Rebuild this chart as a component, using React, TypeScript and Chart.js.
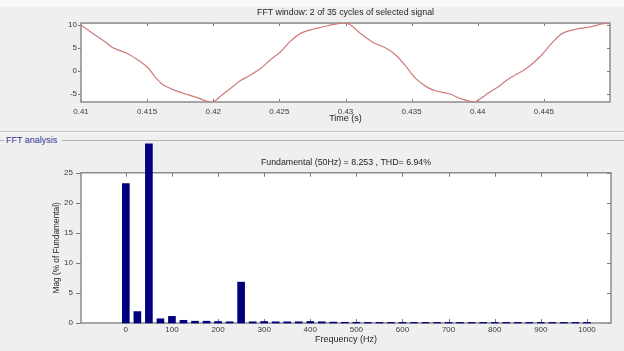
import React, { useEffect, useRef } from 'react';
import { Chart, registerables } from 'chart.js';

Chart.register(...registerables);

// ---- Top plot: FFT window signal ----
const timeS = [
  0.41, 0.4109, 0.4119, 0.4124, 0.4135, 0.4145, 0.4151, 0.4157, 0.4162, 0.417,
  0.418, 0.4188, 0.4194, 0.4198, 0.4201, 0.4205, 0.4213, 0.422, 0.4228, 0.4236,
  0.4243, 0.4251, 0.4258, 0.4266, 0.4275, 0.4283, 0.429, 0.4297, 0.4303, 0.431,
  0.432, 0.4331, 0.4338, 0.4346, 0.4353, 0.4361, 0.4368, 0.4379, 0.4386, 0.4394,
  0.4398, 0.4406, 0.4416, 0.4424, 0.4437, 0.4447, 0.4457, 0.4464, 0.4474, 0.4485,
  0.4495, 0.45,
];
const signal = [
  10.0, 8.2, 6.2, 5.1, 3.8, 2.0, 0.6, -1.6, -3.0, -4.1,
  -5.1, -5.8, -6.5, -6.7, -6.6, -5.6, -3.8, -2.2, -0.9, 0.6,
  2.4, 4.2, 6.4, 8.2, 9.1, 9.6, 10.1, 10.4, 10.2, 8.5,
  6.4, 4.9, 3.5, 0.9, -1.6, -3.4, -4.3, -5.0, -5.9, -6.6,
  -6.7, -5.2, -3.3, -1.6, 0.6, 3.1, 6.4, 8.2, 9.1, 9.6,
  10.3, 10.4,
];
const timeTicks = [0.41, 0.415, 0.42, 0.425, 0.43, 0.435, 0.44, 0.445];
const signalTicks = [-5, 0, 5, 10];

// ---- Bottom plot: FFT spectrum ----
const freqHz = [
  0, 25, 50, 75, 100, 125, 150, 175, 200, 225, 250, 275, 300, 325, 350, 375, 400,
  425, 450, 475, 500, 525, 550, 575, 600, 625, 650, 675, 700, 725, 750, 775, 800,
  825, 850, 875, 900, 925, 950, 975, 1000,
];
const magPct = [
  23.2, 1.9, 29.8, 0.7, 1.1, 0.45, 0.3, 0.3, 0.25, 0.2, 6.8, 0.2, 0.25, 0.2, 0.2, 0.2, 0.25,
  0.2, 0.15, 0.12, 0.12, 0.1, 0.1, 0.1, 0.1, 0.1, 0.1, 0.1, 0.1, 0.1, 0.1, 0.1, 0.1,
  0.1, 0.1, 0.1, 0.1, 0.1, 0.1, 0.1, 0.1,
];
const freqTicks = [0, 100, 200, 300, 400, 500, 600, 700, 800, 900, 1000];
const magTicks = [0, 5, 10, 15, 20, 25];

const topTitle = 'FFT window: 2 of 35 cycles of selected signal';
const bottomTitle = 'Fundamental (50Hz) = 8.253 , THD= 6.94%';

const FONT = 'Arial, "Liberation Sans", sans-serif';
const TICK_COLOR = '#3a3a3a';
const TEXT_COLOR = '#1e1e1e';

const matlabBox = {
  id: 'matlabBox',
  beforeDraw(chart: any) {
    const { ctx, chartArea: ca } = chart;
    ctx.save();
    ctx.fillStyle = '#ffffff';
    ctx.fillRect(ca.left, ca.top, ca.right - ca.left, ca.bottom - ca.top);
    ctx.restore();
  },
  beforeDatasetsDraw(chart: any, _args: any, opts: any) {
    const { ctx, chartArea: ca, scales } = chart;
    const xs = scales.x;
    const ys = scales.y;
    const L = opts.tickLen ?? 3;
    const Lout = opts.leftOut ?? 3;
    ctx.save();
    ctx.strokeStyle = '#7a7a7a';
    ctx.lineWidth = 1;
    ctx.beginPath();
    for (const t of xs.ticks) {
      const px = Math.round(xs.getPixelForValue(t.value)) + 0.5;
      ctx.moveTo(px, ca.bottom);
      ctx.lineTo(px, ca.bottom - L);
      ctx.moveTo(px, ca.top);
      ctx.lineTo(px, ca.top + L);
    }
    for (const t of ys.ticks) {
      const py = Math.round(ys.getPixelForValue(t.value)) + 0.5;
      ctx.moveTo(ca.left - Lout, py);
      ctx.lineTo(ca.left, py);
      ctx.moveTo(ca.right, py);
      ctx.lineTo(ca.right - L, py);
    }
    ctx.stroke();
    ctx.strokeStyle = '#8c8c8c';
    ctx.lineWidth = 1.5;
    ctx.strokeRect(ca.left, ca.top, ca.right - ca.left, ca.bottom - ca.top);
    ctx.restore();
  },
};

const noGrid = { display: false, drawTicks: false, tickLength: 0 };

export default function App() {
  const topRef = useRef<HTMLCanvasElement>(null);
  const botRef = useRef<HTMLCanvasElement>(null);

  useEffect(() => {
    const tickFont = { family: FONT, size: 8 };
    const titleFont = { family: FONT, size: 8.8, weight: 'normal' as const };
    const axisTitleFont = { family: FONT, size: 9 };

    const top = new Chart(topRef.current!, {
      type: 'line',
      data: {
        datasets: [
          {
            data: timeS.map((t, i) => ({ x: t, y: signal[i] })),
            borderColor: '#d07a7a',
            borderWidth: 1.2,
            pointRadius: 0,
            tension: 0.3,
            fill: false,
          },
        ],
      },
      options: {
        animation: false,
        responsive: false,
        events: [],
        layout: { padding: { left: 0, right: 14, top: 0, bottom: 6 } },
        plugins: {
          legend: { display: false },
          tooltip: { enabled: false },
          title: {
            display: true,
            text: topTitle,
            fullSize: false,
            color: TEXT_COLOR,
            font: titleFont,
            padding: { top: 7.3, bottom: 5.2 },
          },
          matlabBox: { tickLen: 3, leftOut: 3 },
        } as any,
        scales: {
          x: {
            type: 'linear',
            min: 0.41,
            max: 0.45,
            afterBuildTicks: (s: any) => {
              s.ticks = timeTicks.map((v) => ({ value: v }));
            },
            afterFit: (s: any) => {
              s.height = 22;
            },
            grid: noGrid,
            border: { display: false },
            ticks: {
              font: tickFont,
              color: TICK_COLOR,
              padding: 5,
              maxRotation: 0,
              autoSkip: false,
              callback: (v: any) => String(v),
            },
            title: {
              display: true,
              text: 'Time (s)',
              color: TEXT_COLOR,
              font: axisTitleFont,
              padding: { top: 0, bottom: 0 },
            },
          },
          y: {
            type: 'linear',
            min: -6.75,
            max: 10.45,
            afterBuildTicks: (s: any) => {
              s.ticks = signalTicks.map((v) => ({ value: v }));
            },
            afterFit: (s: any) => {
              s.width = 81;
            },
            grid: noGrid,
            border: { display: false },
            ticks: {
              font: tickFont,
              color: TICK_COLOR,
              padding: 4,
              autoSkip: false,
              callback: (v: any) => String(v),
            },
          },
        },
      },
      plugins: [matlabBox],
    });

    const bot = new Chart(botRef.current!, {
      type: 'bar',
      data: {
        datasets: [
          {
            data: freqHz.map((f, i) => ({ x: f, y: magPct[i] })),
            backgroundColor: '#00007f',
            borderWidth: 0,
            barThickness: 7,
            clip: false as any,
          },
        ],
      },
      options: {
        animation: false,
        responsive: false,
        events: [],
        layout: { padding: { left: 0, right: 13, top: 0, bottom: 6 } },
        plugins: {
          legend: { display: false },
          tooltip: { enabled: false },
          title: {
            display: true,
            text: bottomTitle,
            fullSize: false,
            color: TEXT_COLOR,
            font: titleFont,
            padding: { top: 27.6, bottom: 4.6 },
          },
          matlabBox: { tickLen: 4, leftOut: 5 },
        } as any,
        scales: {
          x: {
            type: 'linear',
            min: -45,
            max: 1000,
            afterBuildTicks: (s: any) => {
              s.ticks = freqTicks.map((v) => ({ value: v }));
            },
            afterFit: (s: any) => {
              s.height = 22;
            },
            grid: noGrid,
            border: { display: false },
            ticks: {
              font: tickFont,
              color: TICK_COLOR,
              padding: 2,
              maxRotation: 0,
              autoSkip: false,
              callback: (v: any) => String(v),
            },
            title: {
              display: true,
              text: 'Frequency (Hz)',
              color: TEXT_COLOR,
              font: axisTitleFont,
              padding: { top: 0, bottom: 0 },
            },
          },
          y: {
            type: 'linear',
            min: 0,
            max: 25,
            afterBuildTicks: (s: any) => {
              s.ticks = magTicks.map((v) => ({ value: v }));
            },
            afterFit: (s: any) => {
              s.width = 81;
            },
            grid: noGrid,
            border: { display: false },
            ticks: {
              font: tickFont,
              color: TICK_COLOR,
              padding: 8,
              autoSkip: false,
              callback: (v: any) => String(v),
            },
            title: {
              display: true,
              text: 'Mag (% of Fundamental)',
              color: TEXT_COLOR,
              font: { family: FONT, size: 8.3 },
              padding: { top: 52, bottom: 0 },
            },
          },
        },
      },
      plugins: [matlabBox],
    });

    return () => {
      top.destroy();
      bot.destroy();
    };
  }, []);

  return (
    <div
      style={{
        position: 'absolute',
        left: 0,
        top: 0,
        width: 624,
        height: 351,
        background: '#efefef',
        overflow: 'hidden',
        fontFamily: FONT,
      }}
    >
      <div style={{ position: 'absolute', left: 0, top: 0, width: 624, height: 7, background: '#f7f7f7' }} />
      <div style={{ position: 'absolute', left: 0, top: 131, width: 624, height: 1, background: '#c4c4c4' }} />
      <div style={{ position: 'absolute', left: 0, top: 132, width: 624, height: 1, background: '#fafafa' }} />
      <div style={{ position: 'absolute', left: 0, top: 140, width: 4, height: 1, background: '#b4b4b4' }} />
      <div style={{ position: 'absolute', left: 62, top: 140, width: 562, height: 1, background: '#b4b4b4' }} />
      <div
        style={{
          position: 'absolute',
          left: 6,
          top: 134,
          fontSize: 9,
          lineHeight: '12px',
          color: '#34349a',
          whiteSpace: 'nowrap',
        }}
      >
        FFT analysis
      </div>
      <canvas
        ref={topRef}
        width={624}
        height={130}
        style={{ position: 'absolute', left: 0, top: 0, width: 624, height: 130, display: 'block' }}
      />
      <canvas
        ref={botRef}
        width={624}
        height={221}
        style={{ position: 'absolute', left: 0, top: 130, width: 624, height: 221, display: 'block' }}
      />
    </div>
  );
}
